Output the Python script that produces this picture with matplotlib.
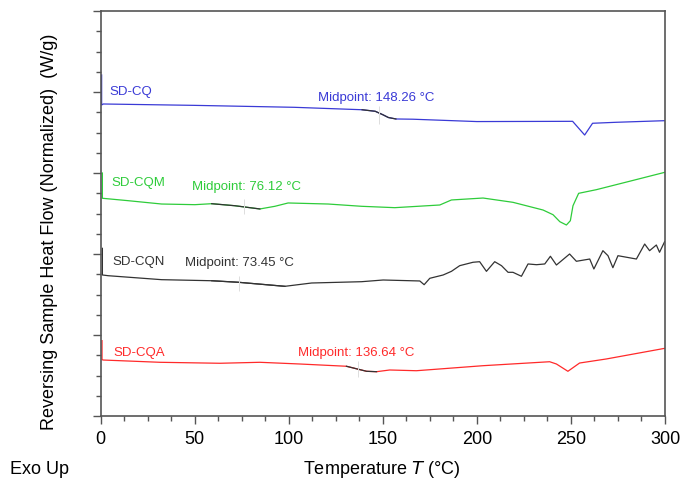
import numpy as np
import matplotlib.pyplot as plt

plt.rcParams['font.family'] = ['Liberation Sans', 'DejaVu Sans']

# ---------- data ----------
# SD-CQ (blue)
cq_T = [0.6, 0.6, 1.5, 50, 103, 139, 146, 150, 153, 157, 166, 200, 250.9, 254, 257.3, 261.5, 274, 300]
cq_y = [4.21, 3.84, 3.852, 3.835, 3.811, 3.781, 3.762, 3.72, 3.685, 3.667, 3.664, 3.635, 3.638,
        3.556, 3.469, 3.614, 3.626, 3.646]

# SD-CQM (green)
cqm_T = [1.0, 1.0, 14.8, 32.5, 50.2, 59.1, 71.4, 84.7, 92.7, 99.7, 121.0, 138.7, 156.4, 180.3,
         186.5, 203.3, 219.2, 235.2, 240.5, 244.1, 247.6, 249.7, 251.1, 254.1, 263.5, 281.2, 300]
cqm_y = [3.0, 2.688, 2.658, 2.617, 2.609, 2.621, 2.596, 2.556, 2.589, 2.630, 2.617, 2.589, 2.572,
         2.605, 2.667, 2.691, 2.638, 2.543, 2.485, 2.399, 2.358, 2.411, 2.596, 2.749, 2.794, 2.898, 3.009]

# SD-CQN (black)
cqn_T = [1.0, 1.0, 4.1, 32.5, 59.1, 73.2, 98.0, 112.2, 138.7, 150.2, 169.7, 172.0, 175.0, 182.1,
         186.5, 190.9, 198.0, 201.5, 205.1, 209.5, 213.1, 216.6, 219.2, 223.7, 227.2, 231.7, 236.1,
         239.1, 242.3, 249.3, 252.9, 260.0, 262.2, 267.0, 269.7, 272.3, 275.0, 284.8, 289.2, 291.8,
         295.4, 297.1, 299.8]
cqn_y = [2.070, 1.741, 1.732, 1.683, 1.670, 1.651, 1.601, 1.642, 1.658, 1.679, 1.667, 1.621, 1.700,
         1.741, 1.786, 1.856, 1.898, 1.905, 1.786, 1.905, 1.856, 1.774, 1.774, 1.725, 1.877, 1.868,
         1.877, 1.972, 1.864, 2.0, 1.910, 1.938, 1.815, 2.041, 1.979, 1.831, 1.979, 1.938, 2.123,
         2.041, 2.111, 2.021, 2.152]

# SD-CQA (red)
cqa_T = [0.8, 0.8, 1.5, 31.6, 63.5, 84.7, 105.9, 130.7, 141.4, 146.7, 153.7, 167.9, 203.3, 238.7,
         242.3, 248.4, 254.6, 268.8, 300]
cqa_y = [0.930, 0.695, 0.691, 0.663, 0.651, 0.663, 0.642, 0.614, 0.552, 0.547, 0.568, 0.559, 0.621,
         0.670, 0.642, 0.552, 0.654, 0.704, 0.836]

names = ["SD-CQ", "SD-CQM", "SD-CQN", "SD-CQA"]
colors = ["#3a3ad6", "#2ecc3a", "#333333", "#ff2a2a"]
midpoints = [148.26, 76.12, 73.45, 136.64]
# glass transition range (analysed segment) and midpoint marker extent
trans = [(139, 157), (59, 86), (59, 100), (130, 147)]
mid_ext = [(3.605, 3.827), (2.494, 2.679), (1.540, 1.732), (0.478, 0.683)]
# label positions (T, y)
name_pos = [(5.0, 4.012), (5.6, 2.885), (6.3, 1.917), (6.8, 0.794)]
mid_pos = [(115.5, 3.942), (48.8, 2.836), (44.9, 1.898), (104.7, 0.794)]

series = [(cq_T, cq_y), (cqm_T, cqm_y), (cqn_T, cqn_y), (cqa_T, cqa_y)]

# ---------- figure ----------
fig = plt.figure(figsize=(6.84, 4.85), dpi=100)
ax = fig.add_axes([100.5 / 684, 1 - 417 / 485, (665 - 100.5) / 684, (417 - 12) / 485])

for (T, y), name, c, mp, tr, ext, npos, mpos in zip(series, names, colors, midpoints,
                                                     trans, mid_ext, name_pos, mid_pos):
    T = np.array(T)
    y = np.array(y)
    ax.plot(T, y, color=c, lw=0.9)
    m = (T >= tr[0]) & (T <= tr[1])
    ax.plot(T[m], y[m], color="#333333", lw=0.9)
    ax.vlines(mp, ext[0], ext[1], color="#dddddd", lw=0.7)
    ax.text(npos[0], npos[1], name, color=c, fontsize=9.5, ha="left", va="center")
    ax.text(mpos[0], mpos[1], f"Midpoint: {mp:.2f} °C", color=c, fontsize=9.5,
            ha="left", va="center")

ax.set_xlim(0, 300)
ax.set_ylim(0, 5)
ax.set_xticks(np.arange(0, 301, 50))
ax.set_xticks(np.arange(0, 301, 12.5), minor=True)
ax.set_yticks(np.arange(0, 5.1, 1))
ax.set_yticks(np.arange(0, 5.01, 0.25), minor=True)
ax.set_yticklabels([])
ax.tick_params(axis="both", which="major", length=6, width=1, color="#555555",
               labelsize=13, pad=4)
ax.tick_params(axis="both", which="minor", length=3.5, width=1, color="#555555")
for s in ax.spines.values():
    s.set_color("#555555")
    s.set_linewidth(1.2)

fig.text(50 / 684, 1 - 232 / 485, "Reversing Sample Heat Flow (Normalized)  (W/g)",
         rotation=90, ha="center", va="center", fontsize=13)
fig.text(382 / 684, 1 - 470 / 485, "Temperature $\\it{T}$ (°C)", ha="center", va="center",
         fontsize=13)
fig.text(10 / 684, 1 - 470 / 485, "Exo Up", ha="left", va="center", fontsize=13)

fig.savefig("out.png", dpi=100)
